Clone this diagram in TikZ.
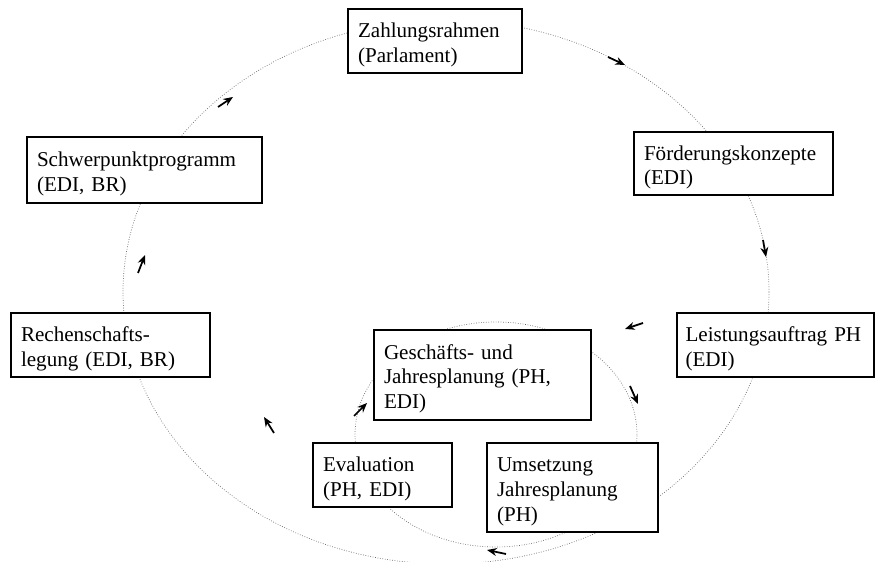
\documentclass[tikz,border=0pt]{standalone}
\usepackage{fontspec}
\setmainfont{Liberation Serif}
\usepackage{tikz}
\usetikzlibrary{arrows.meta}
\usetikzlibrary{positioning, shapes.geometric}

\begin{document}
\begin{tikzpicture}[font=\fontsize{12}{14.2}\selectfont]
\useasboundingbox (0,0) rectangle (17.5,11.24);
\clip (0,0) rectangle (17.5,11.24);

% outer and inner cycle
\draw[black!60, densely dotted, line width=0.4pt] (8.92,5.40) ellipse [x radius=6.46, y radius=5.44];
\draw[black!60, densely dotted, line width=0.4pt] (9.92,2.55) ellipse [x radius=2.82, y radius=2.25];

\begin{scope}[every node/.style={rectangle,draw,fill=white,line width=0.6pt,align=left,
                                 inner xsep=0.2cm,inner ysep=0.05cm,
                                 execute at begin node={\rule{0pt}{0.45cm}}}]
    \node[text width=3.08cm, minimum height=1.28cm] (ZR) at (8.70,10.42) {Zahlungsrahmen\\(Parlament)};
    \node[text width=3.58cm, minimum height=1.26cm] (FK) at (14.67,7.97) {Förderungskonzepte\\(EDI)};
    \node[text width=3.60cm, minimum height=1.28cm, inner xsep=0.17cm] (LA) at (15.51,4.34) {Leistungsauftrag PH\\(EDI)};
    \node[text width=4.30cm, minimum height=1.32cm] (SP) at (2.89,7.84) {Schwerpunktprogramm\\(EDI, BR)};
    \node[text width=3.58cm, minimum height=1.28cm] (RL) at (2.21,4.34) {Rechenschafts-\\legung (EDI, BR)};
    \node[text width=3.94cm, minimum height=1.80cm] (GJ) at (9.65,3.74) {Geschäfts- und\\Jahresplanung (PH,\\EDI)};
    \node[text width=2.38cm, minimum height=1.28cm] (EV) at (7.65,1.74) {Evaluation\\(PH, EDI)};
    \node[text width=3.02cm, minimum height=1.78cm] (UJ) at (11.45,1.49) {Umsetzung\\Jahresplanung\\(PH)};
\end{scope}

\begin{scope}[>={Stealth[length=5.5pt,width=4.5pt]},
              every edge/.style={draw=black,line width=1pt}]
    \coordinate (p1) at (12.16,10.10); \coordinate (q1) at (12.50,9.94);
    \coordinate (p2) at (15.26,6.44);  \coordinate (q2) at (15.32,6.10);
    \coordinate (p3) at (12.86,4.78);  \coordinate (q3) at (12.50,4.66);
    \coordinate (p4) at (12.60,3.52);  \coordinate (q4) at (12.76,3.16);
    \coordinate (p5) at (10.12,0.16);  \coordinate (q5) at (9.74,0.24);
    \coordinate (p6) at (7.08,2.92);   \coordinate (q6) at (7.34,3.18);
    \coordinate (p7) at (5.48,2.58);   \coordinate (q7) at (5.28,2.90);
    \coordinate (p8) at (2.76,5.78);   \coordinate (q8) at (2.90,6.14);
    \coordinate (p9) at (4.36,9.10);   \coordinate (q9) at (4.66,9.30);
    \path [->] (p1) edge (q1);
    \path [->] (p2) edge (q2);
    \path [->] (p3) edge (q3);
    \path [->] (p4) edge (q4);
    \path [->] (p5) edge (q5);
    \path [->] (p6) edge (q6);
    \path [->] (p7) edge (q7);
    \path [->] (p8) edge (q8);
    \path [->] (p9) edge (q9);
\end{scope}
\end{tikzpicture}
\end{document}
